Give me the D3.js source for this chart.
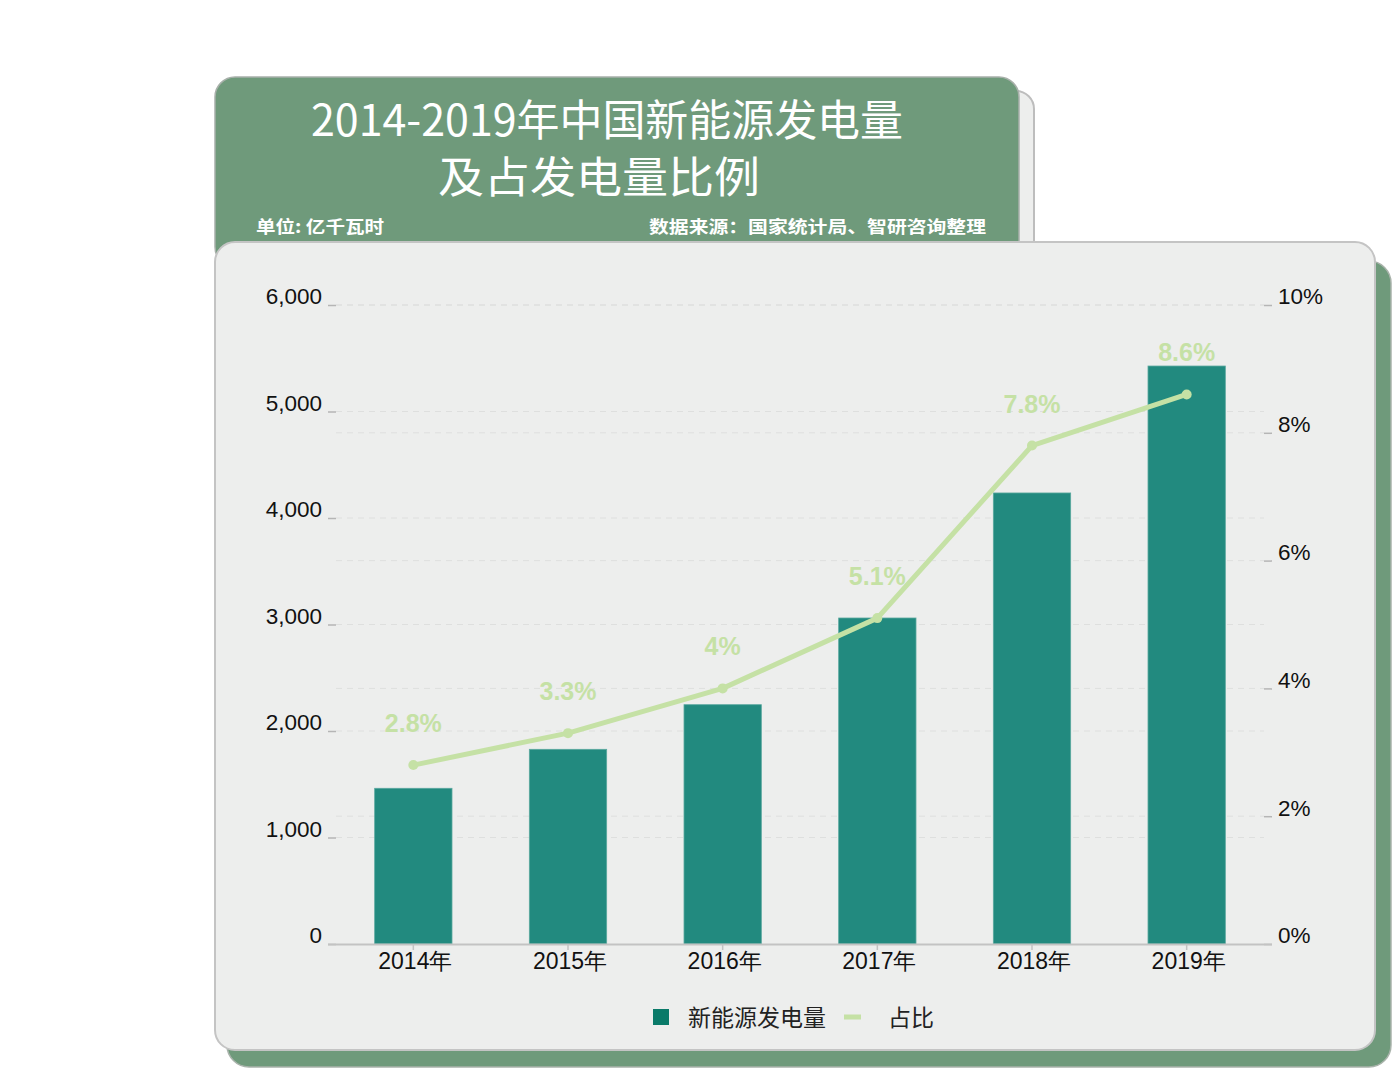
<!DOCTYPE html>
<html><head><meta charset="utf-8">
<script src="https://cdn.jsdelivr.net/npm/d3@7"></script>
<style>body{margin:0;background:#fff;}svg{display:block;}</style>
</head><body>
<script>
const categories = ["2014年","2015年","2016年","2017年","2018年","2019年"];
const generation = [1462, 1828, 2247, 3061, 4235, 5427];
const share = [2.8, 3.3, 4.0, 5.1, 7.8, 8.6];
const shareLabels = ["2.8%","3.3%","4%","5.1%","7.8%","8.6%"];
const leftTicks = [0,1000,2000,3000,4000,5000,6000];
const rightTicks = [0,2,4,6,8,10];
const titleLines = ["2014-2019年中国新能源发电量","及占发电量比例"];
const unitText = "单位: 亿千瓦时";
const sourceText = "数据来源：国家统计局、智研咨询整理";
const legendNames = ["新能源发电量","占比"];

const W=1392,H=1069;
const svg=d3.select("body").append("svg").attr("width",W).attr("height",H);
const green="#6f9a7b", panel="#edeeed", border="#bdbdbd";

// header shadow
svg.append("rect").attr("x",230).attr("y",91).attr("width",804).attr("height",180).attr("rx",18)
  .attr("fill",panel).attr("stroke",border).attr("stroke-width",2);
// header
svg.append("rect").attr("x",215).attr("y",77).attr("width",804).attr("height",190).attr("rx",20)
  .attr("fill",green).attr("stroke","#a8b0aa").attr("stroke-width",1.5);
// main shadow
svg.append("rect").attr("x",227).attr("y",261).attr("width",1164).attr("height",806).attr("rx",22)
  .attr("fill",green).attr("stroke","#a9b3ab").attr("stroke-width",1.5);
// main panel
svg.append("rect").attr("x",215).attr("y",242).attr("width",1160).attr("height",808).attr("rx",20)
  .attr("fill",panel).attr("stroke","#c4c4c4").attr("stroke-width",2);

// titles
const tf="'Noto Sans CJK SC','Noto Sans',sans-serif";
svg.append("text").attr("x",607).attr("y",136).attr("text-anchor","middle")
  .attr("font-family",tf).attr("font-size",43).attr("font-weight",400).attr("fill","#fff")
  .attr("textLength",592).attr("lengthAdjust","spacingAndGlyphs").text(titleLines[0]);
svg.append("text").attr("x",599).attr("y",193).attr("text-anchor","middle")
  .attr("font-family",tf).attr("font-size",43).attr("font-weight",400).attr("fill","#fff")
  .attr("textLength",322).attr("lengthAdjust","spacingAndGlyphs").text(titleLines[1]);
svg.append("text").attr("x",256).attr("y",233).attr("font-family",tf).attr("font-size",17)
  .attr("font-weight",700).attr("fill","#fff").attr("textLength",128).attr("lengthAdjust","spacingAndGlyphs").text(unitText);
svg.append("text").attr("x",986).attr("y",233).attr("text-anchor","end").attr("font-family",tf).attr("font-size",17)
  .attr("font-weight",700).attr("fill","#fff").attr("textLength",337).attr("lengthAdjust","spacingAndGlyphs").text(sourceText);

// scales
const x=d3.scaleBand().domain(categories).range([336,1264]).paddingInner(0.5).paddingOuter(0.25);
const yL=d3.scaleLinear().domain([0,6000]).range([944,305]);
const yR=d3.scaleLinear().domain([0,10]).range([944,305]);
const af="'Liberation Sans',Arial,sans-serif";

// gridlines
const g=svg.append("g");
g.selectAll(".gl").data(leftTicks.slice(1)).join("line")
  .attr("x1",336).attr("x2",1264).attr("y1",d=>yL(d)).attr("y2",d=>yL(d))
  .attr("stroke","#dedfde").attr("stroke-width",1).attr("stroke-dasharray","6,5");
g.selectAll(".gr").data(rightTicks.slice(1)).join("line")
  .attr("x1",336).attr("x2",1264).attr("y1",d=>yR(d)).attr("y2",d=>yR(d))
  .attr("stroke","#dedfde").attr("stroke-width",1).attr("stroke-dasharray","6,5");

// left axis
const la=svg.append("g").attr("transform","translate(336,0)")
  .call(d3.axisLeft(yL).tickValues(leftTicks).tickSize(8).tickFormat(d3.format(",")));
la.select(".domain").remove();
la.selectAll(".tick line").attr("stroke","#b5b5b5").attr("stroke-width",1.5);
la.selectAll(".tick text").attr("font-family",af).attr("font-size",22.5).attr("fill","#111")
  .attr("x",-14).attr("dy","-0.05em");
// right axis
const ra=svg.append("g").attr("transform","translate(1264,0)")
  .call(d3.axisRight(yR).tickValues(rightTicks).tickSize(8).tickFormat(d=>d+"%"));
ra.select(".domain").remove();
ra.selectAll(".tick line").attr("stroke","#b5b5b5").attr("stroke-width",1.5);
ra.selectAll(".tick text").attr("font-family",af).attr("font-size",22.5).attr("fill","#111")
  .attr("x",14).attr("dy","-0.05em");

// bars
svg.selectAll(".bar").data(generation).join("rect")
  .attr("x",(d,i)=>x(categories[i])).attr("width",x.bandwidth())
  .attr("y",d=>yL(d)).attr("height",d=>yL(0)-yL(d))
  .attr("fill","#228a7f").attr("stroke","#5aa89f").attr("stroke-width",0.8);

// x axis
const xa=svg.append("g").attr("transform","translate(0,944)")
  .call(d3.axisBottom(x).tickSize(6).tickSizeOuter(0));
xa.select(".domain").attr("d","M328,0.5H1272").attr("stroke","#c3c3c3").attr("stroke-width",2);
xa.selectAll(".tick line").attr("stroke","#c3c3c3").attr("stroke-width",1.5);
xa.selectAll(".tick text").attr("font-family",af).attr("font-size",23).attr("fill","#111")
  .attr("y",5).attr("dy","0.85em").attr("dx","2");

// line
const cx=i=>x(categories[i])+x.bandwidth()/2;
const lc="#c5e1a5";
svg.append("path").datum(share)
  .attr("d",d3.line().x((d,i)=>cx(i)).y(d=>yR(d)))
  .attr("fill","none").attr("stroke",lc).attr("stroke-width",5).attr("stroke-linejoin","round");
svg.selectAll(".pt").data(share).join("circle")
  .attr("cx",(d,i)=>cx(i)).attr("cy",d=>yR(d)).attr("r",5).attr("fill",lc);
svg.selectAll(".lbl").data(share).join("text")
  .attr("x",(d,i)=>cx(i)).attr("y",d=>yR(d)-33).attr("text-anchor","middle")
  .attr("font-family","'Liberation Sans Narrow','Liberation Sans',sans-serif").attr("font-weight",700)
  .attr("font-size",25).attr("fill",lc).text((d,i)=>shareLabels[i]);

// legend
svg.append("rect").attr("x",653).attr("y",1009).attr("width",16).attr("height",16).attr("fill","#0a7a69");
svg.append("text").attr("x",688).attr("y",1026).attr("font-family",tf).attr("font-size",23).attr("fill","#222")
  .text(legendNames[0]);
svg.append("line").attr("x1",844).attr("x2",861).attr("y1",1017).attr("y2",1017).attr("stroke",lc).attr("stroke-width",5);
svg.append("text").attr("x",888).attr("y",1026).attr("font-family",tf).attr("font-size",23).attr("fill","#222")
  .text(legendNames[1]);
</script>
</body></html>
